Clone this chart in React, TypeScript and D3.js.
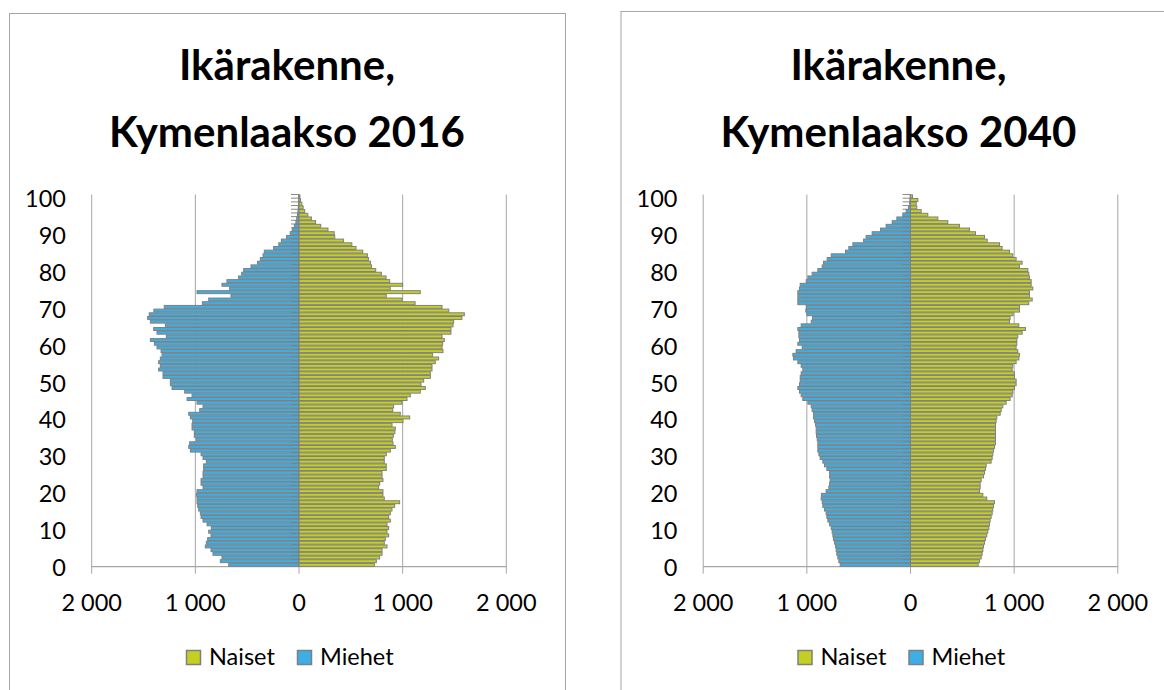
import React from "react";
import * as d3 from "d3";

// Ages 0..100 (category axis)
const AGES: number[] = d3.range(0, 101);
const Y_TICKS: number[] = [0, 10, 20, 30, 40, 50, 60, 70, 80, 90, 100];
const X_TICKS: number[] = [-2000, -1000, 0, 1000, 2000];
const X_TICK_LABELS: string[] = ["2 000", "1 000", "0", "1 000", "2 000"];
const SERIES_NAMES: string[] = ["Naiset", "Miehet"];
const TITLES: string[][] = [
  ["Ikärakenne,", "Kymenlaakso 2016"],
  ["Ikärakenne,", "Kymenlaakso 2040"],
];

// 2016, index = age
const WOMEN_2016: number[] = [
  727, 746, 778, 801, 801, 849, 823, 833, 865, 849,
  865, 849, 881, 865, 881, 897, 923, 971, 823, 810,
  810, 768, 778, 810, 801, 801, 842, 842, 823, 823,
  842, 881, 929, 907, 900, 910, 925, 929, 897, 1003,
  1068, 977, 904, 913, 994, 1042, 1074, 1170, 1219, 1177,
  1203, 1267, 1267, 1283, 1283, 1315, 1347, 1289, 1389, 1380,
  1386, 1402, 1380, 1466, 1466, 1486, 1492, 1572, 1595, 1445,
  1380, 1120, 995, 842, 1170, 880, 1000, 875, 840, 795,
  740, 700, 690, 670, 660, 615, 550, 510, 430, 345,
  340, 280, 210, 160, 120, 85, 55, 40, 28, 15,
  8,
];
const MEN_2016: number[] = [
  678, 759, 743, 830, 849, 904, 894, 881, 849, 871,
  846, 887, 926, 945, 952, 968, 977, 984, 984, 990,
  984, 926, 945, 945, 926, 926, 920, 920, 894, 926,
  945, 1048, 1064, 1055, 990, 1010, 1010, 1032, 1032, 1026,
  1048, 1064, 958, 926, 984, 1080, 1032, 1103, 1225, 1241,
  1241, 1312, 1312, 1354, 1338, 1354, 1338, 1321, 1331, 1370,
  1395, 1434, 1280, 1370, 1402, 1289, 1434, 1460, 1445, 1400,
  1300, 932, 871, 656, 984, 669, 743, 695, 582, 553,
  534, 463, 400, 373, 347, 335, 245, 195, 170, 120,
  85, 65, 45, 30, 22, 15, 10, 7, 4, 3,
  2,
];

// 2040, index = age
const WOMEN_2040: number[] = [
  653, 666, 682, 691, 698, 704, 714, 723, 736, 746,
  756, 762, 768, 778, 788, 794, 801, 810, 736, 698,
  666, 672, 672, 682, 704, 714, 723, 730, 778, 788,
  794, 801, 810, 820, 820, 820, 820, 820, 820, 826,
  833, 865, 875, 891, 923, 961, 981, 987, 1003, 1019,
  1019, 1003, 1003, 981, 987, 1019, 1045, 1051, 1035, 1019,
  1026, 1026, 1035, 1077, 1109, 1045, 955, 961, 990, 1051,
  1051, 1141, 1174, 1148, 1148, 1180, 1164, 1164, 1148, 1141,
  1132, 1051, 1077, 1019, 987, 955, 884, 859, 740, 714,
  627, 569, 473, 360, 264, 167, 103, 61, 55, 71,
  20,
];
const MEN_2040: number[] = [
  678, 691, 701, 711, 717, 723, 733, 743, 749, 756,
  765, 781, 797, 807, 814, 830, 846, 852, 862, 859,
  814, 788, 781, 775, 781, 781, 807, 830, 846, 872,
  884, 894, 894, 894, 900, 907, 910, 910, 916, 926,
  936, 936, 949, 958, 990, 1039, 1055, 1071, 1087, 1071,
  1064, 1064, 1055, 1039, 1055, 1087, 1129, 1135, 1103, 1045,
  1087, 1071, 1077, 1077, 1087, 1055, 958, 945, 1000, 1010,
  1006, 1087, 1087, 1087, 1087, 1071, 1064, 1006, 990, 949,
  894, 852, 839, 804, 765, 627, 595, 556, 453, 428,
  370, 289, 235, 177, 132, 74, 42, 20, 10, 6,
  3,
];

const WOMEN_COLOR = "#c4cf22";
const MEN_COLOR = "#3cafe6";
const BAR_STROKE = "#7f7f7f";
const FONT = "Lato, 'Open Sans', sans-serif";

type ChartProps = {
  ox: number;
  frameTop: number;
  title: string[];
  women: number[];
  men: number[];
};

function Pyramid({ ox, frameTop, title, women, men }: ChartProps) {
  const plotLeft = 91.7 + ox;
  const plotRight = 506.3 + ox;
  const plotTop = 194.5;
  const plotBottom = 566.7;
  const frameLeft = 9 + ox;
  const frameRight = 565 + ox;
  const cx = (frameLeft + frameRight) / 2;

  const x = d3.scaleLinear().domain([-2000, 2000]).range([plotLeft, plotRight]);
  const y = d3
    .scaleBand<number>()
    .domain(AGES)
    .range([plotBottom, plotTop])
    .paddingInner(0.2)
    .paddingOuter(0.1);
  const step = y.step();
  const bw = y.bandwidth();
  const x0 = x(0);

  const legendY = 650;
  const legendX = 186 + ox;

  return (
    <g>
      <rect
        x={frameLeft + 0.5}
        y={frameTop + 0.5}
        width={frameRight - frameLeft}
        height={720}
        fill="#fff"
        stroke="#a6a6a6"
        strokeWidth={1}
      />
      {title.map((t, i) => (
        <text
          key={i}
          x={cx}
          y={80 + i * 67}
          textAnchor="middle"
          fontFamily={FONT}
          fontWeight={700}
          fontSize={42}
          fill="#000"
        >
          {t}
        </text>
      ))}
      {/* vertical gridlines */}
      {X_TICKS.filter((v) => v !== 0).map((v) => (
        <line
          key={"g" + v}
          x1={x(v)}
          x2={x(v)}
          y1={plotTop}
          y2={plotBottom + 7}
          stroke="#a6a6a6"
          strokeWidth={1}
        />
      ))}
      {/* x axis */}
      <line x1={plotLeft} x2={plotRight} y1={plotBottom} y2={plotBottom} stroke="#a6a6a6" strokeWidth={1.2} />
      <line x1={x0} x2={x0} y1={plotBottom} y2={plotBottom + 7} stroke="#a6a6a6" strokeWidth={1} />
      {/* category axis ticks (left of zero) */}
      {AGES.map((a) => {
        const yy = (y(a) as number) - (step - bw) / 2;
        return (
          <line key={"t" + a} x1={x0 - 8} x2={x0} y1={yy} y2={yy} stroke="#8c8c8c" strokeWidth={1} />
        );
      })}
      <line x1={x0} x2={x0} y1={plotTop} y2={plotBottom} stroke="#8c8c8c" strokeWidth={1} />
      {/* bars */}
      {AGES.map((a) => (
        <g key={"b" + a}>
          <rect
            x={x(-men[a])}
            y={y(a)}
            width={x0 - x(-men[a])}
            height={bw}
            fill={MEN_COLOR}
            stroke={BAR_STROKE}
            strokeWidth={1}
          />
          <rect
            x={x0}
            y={y(a)}
            width={x(women[a]) - x0}
            height={bw}
            fill={WOMEN_COLOR}
            stroke={BAR_STROKE}
            strokeWidth={1}
          />
        </g>
      ))}
      {/* y tick labels */}
      {Y_TICKS.map((a) => (
        <text
          key={"yl" + a}
          x={66 + ox}
          y={(y(a) as number) + bw / 2 + 2}
          textAnchor="end"
          dominantBaseline="central"
          fontFamily={FONT}
          fontSize={23.5}
          fill="#000"
        >
          {a}
        </text>
      ))}
      {/* x tick labels */}
      {X_TICKS.map((v, i) => (
        <text
          key={"xl" + v}
          x={x(v)}
          y={611}
          textAnchor="middle"
          fontFamily={FONT}
          fontSize={23.5}
          fill="#000"
        >
          {X_TICK_LABELS[i]}
        </text>
      ))}
      {/* legend */}
      <rect x={legendX + 0.5} y={legendY + 0.5} width={14} height={14} fill={WOMEN_COLOR} stroke={BAR_STROKE} strokeWidth={1.5} />
      <text x={legendX + 23} y={legendY + 15} fontFamily={FONT} fontSize={23.5} fill="#000">
        {SERIES_NAMES[0]}
      </text>
      <rect x={legendX + 111 + 0.5} y={legendY + 0.5} width={14} height={14} fill={MEN_COLOR} stroke={BAR_STROKE} strokeWidth={1.5} />
      <text x={legendX + 134} y={legendY + 15} fontFamily={FONT} fontSize={23.5} fill="#000">
        {SERIES_NAMES[1]}
      </text>
    </g>
  );
}

export default function App() {
  return (
    <svg
      width={1164}
      height={690}
      style={{ position: "absolute", left: 0, top: 0, background: "#fff" }}
    >
      <rect x={0} y={0} width={1164} height={690} fill="#fff" />
      <Pyramid ox={0} frameTop={13} title={TITLES[0]} women={WOMEN_2016} men={MEN_2016} />
      <Pyramid ox={611.5} frameTop={11} title={TITLES[1]} women={WOMEN_2040} men={MEN_2040} />
    </svg>
  );
}
